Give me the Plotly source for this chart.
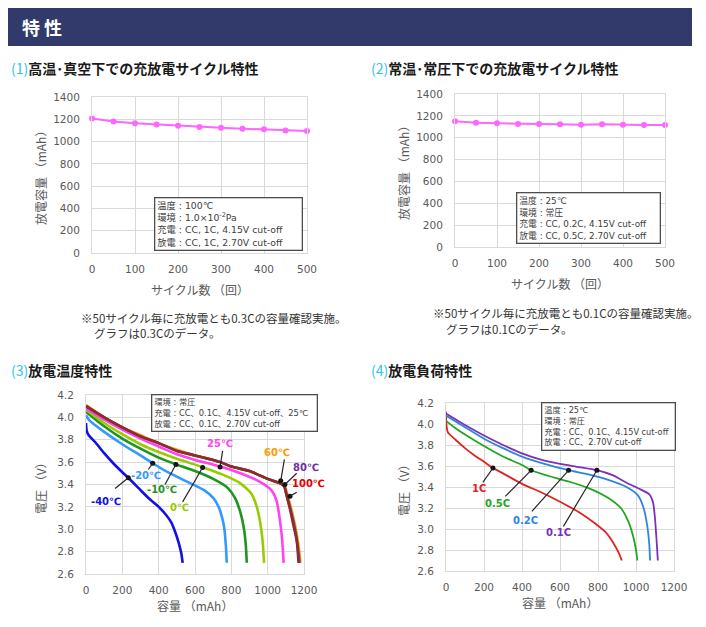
import plotly.graph_objects as go

# page has an 8px body margin; the figure is sized to fill the rest of the 706x627 window
PAGE_W, PAGE_H, OFF = 706, 627, 8
W, H = PAGE_W - OFF, PAGE_H - OFF
FONT = "Noto Sans CJK JP"
NUMFONT = "DejaVu Sans, Noto Sans CJK JP"

# ---------------- data ----------------
cycles = [0, 50, 100, 150, 200, 250, 300, 350, 400, 450, 500]
cap_vacuum = [1208, 1181, 1164, 1153, 1141, 1130, 1123, 1116, 1110, 1100, 1094]
cap_normal = [1150, 1136, 1132, 1126, 1125, 1124, 1119, 1124, 1119, 1116, 1116]

# (3) discharge vs temperature
temp_labels = ["-40℃", "-20℃", "-10℃", "0℃", "25℃", "60℃", "80℃", "100℃"]
cap_m40 = [0, 4, 15, 50, 100, 150, 200, 233, 300, 350, 400, 440, 470, 490, 510, 525, 532]
v_m40 = [3.95, 3.88, 3.84, 3.78, 3.68, 3.59, 3.51, 3.46, 3.35, 3.27, 3.20, 3.13, 3.06, 2.98, 2.88, 2.78, 2.70]
cap_m20 = [0, 20, 100, 200, 300, 367, 450, 550, 650, 700, 730, 750, 762, 770, 775]
v_m20 = [4.02, 3.97, 3.87, 3.76, 3.66, 3.59, 3.51, 3.43, 3.35, 3.28, 3.20, 3.10, 3.00, 2.85, 2.70]
cap_m10 = [0, 100, 200, 300, 400, 495, 600, 700, 780, 820, 850, 870, 880, 885]
v_m10 = [4.05, 3.92, 3.81, 3.72, 3.64, 3.58, 3.52, 3.45, 3.37, 3.28, 3.15, 3.00, 2.85, 2.70]
cap_0 = [0, 100, 200, 300, 400, 500, 642, 750, 850, 910, 940, 960, 972, 980]
v_0 = [4.07, 3.95, 3.85, 3.76, 3.69, 3.63, 3.555, 3.49, 3.41, 3.32, 3.20, 3.05, 2.90, 2.70]
cap_25 = [0, 100, 200, 300, 400, 500, 600, 738, 850, 950, 1020, 1050, 1070, 1080, 1088]
v_25 = [4.08, 3.98, 3.89, 3.81, 3.74, 3.67, 3.62, 3.56, 3.50, 3.43, 3.35, 3.25, 3.05, 2.90, 2.70]
cap_60 = [0, 100, 200, 300, 400, 500, 600, 700, 740, 800, 900, 1000, 1070, 1095, 1110, 1135, 1155, 1170, 1180]
v_60 = [4.11, 4.00, 3.91, 3.84, 3.77, 3.71, 3.66, 3.62, 3.60, 3.56, 3.52, 3.45, 3.41, 3.38, 3.30, 3.15, 3.00, 2.85, 2.70]
cap_80 = [0, 100, 200, 300, 400, 500, 600, 700, 740, 800, 900, 1000, 1070, 1092, 1105, 1130, 1150, 1165, 1175]
v_80 = [4.10, 4.00, 3.91, 3.83, 3.77, 3.70, 3.66, 3.62, 3.60, 3.56, 3.52, 3.45, 3.41, 3.38, 3.30, 3.15, 3.00, 2.85, 2.70]
cap_100 = [0, 100, 200, 300, 400, 500, 600, 700, 740, 800, 900, 1000, 1070, 1090, 1100, 1120, 1140, 1160, 1170]
v_100 = [4.10, 4.00, 3.91, 3.83, 3.77, 3.70, 3.66, 3.62, 3.60, 3.56, 3.52, 3.45, 3.41, 3.39, 3.33, 3.20, 3.05, 2.90, 2.70]

# (4) discharge vs load
rate_labels = ["1C", "0.5C", "0.2C", "0.1C"]
cap_1c = [0, 3, 10, 50, 100, 150, 200, 247, 300, 400, 500, 600, 700, 780, 840, 880, 910, 925]
v_1c = [4.12, 3.98, 3.92, 3.85, 3.77, 3.70, 3.64, 3.58, 3.53, 3.43, 3.35, 3.26, 3.16, 3.06, 2.97, 2.87, 2.77, 2.70]
cap_05c = [0, 50, 100, 200, 300, 400, 448, 550, 650, 750, 850, 920, 960, 985, 1000, 1007]
v_05c = [4.03, 3.96, 3.90, 3.79, 3.69, 3.61, 3.56, 3.50, 3.45, 3.39, 3.30, 3.20, 3.07, 2.93, 2.80, 2.70]
cap_02c = [0, 100, 200, 300, 400, 500, 645, 750, 850, 950, 1010, 1040, 1060, 1070, 1074]
v_02c = [4.08, 3.97, 3.86, 3.77, 3.69, 3.63, 3.56, 3.52, 3.47, 3.40, 3.32, 3.20, 3.02, 2.85, 2.70]
cap_01c = [0, 100, 200, 300, 400, 500, 600, 700, 794, 880, 950, 1020, 1070, 1090, 1100, 1108, 1115]
v_01c = [4.10, 3.99, 3.89, 3.80, 3.72, 3.66, 3.62, 3.59, 3.56, 3.51, 3.44, 3.38, 3.33, 3.25, 3.10, 2.90, 2.70]

# ---------------- helpers ----------------
def px(x):
    return (x - OFF) / W

def py(y):
    return 1 - (y - OFF) / H

GRID = "#D9D9D9"
TICK = dict(family=NUMFONT, size=10.5, color="#595959")

def axis(domain, rng, dtick, anchor, fmt=None):
    d = dict(domain=domain, range=rng, dtick=dtick, anchor=anchor, showgrid=True,
             gridcolor=GRID, gridwidth=1, zeroline=False, showline=True, linecolor=GRID,
             linewidth=1, mirror=True, ticks="", tickfont=TICK, fixedrange=True,
             automargin=False)
    if fmt:
        d["tickformat"] = fmt
    return d

X3 = (0, 1200)
Y3 = (2.6, 4.2)

def dom(v, r):
    return (v - r[0]) / (r[1] - r[0])

fig = go.Figure()

# (1)
fig.add_trace(go.Scatter(x=cycles, y=cap_vacuum, mode="lines+markers", xaxis="x", yaxis="y",
                         line=dict(color="#FF66FF", width=2), marker=dict(size=6, color="#FF66FF"),
                         cliponaxis=False, showlegend=False))
# (2)
fig.add_trace(go.Scatter(x=cycles, y=cap_normal, mode="lines+markers", xaxis="x2", yaxis="y2",
                         line=dict(color="#FF66FF", width=2), marker=dict(size=6, color="#FF66FF"),
                         cliponaxis=False, showlegend=False))

# (3)
temp_series = [
    (cap_m40, v_m40, "#1010E8"),
    (cap_m20, v_m20, "#3399FF"),
    (cap_m10, v_m10, "#1E961E"),
    (cap_0, v_0, "#99CC00"),
    (cap_25, v_25, "#FF44EE"),
    (cap_60, v_60, "#FF9900"),
    (cap_80, v_80, "#7030A0"),
    (cap_100, v_100, "#8E2C2C"),
]
for (cx, vy, col), name in zip(temp_series, temp_labels):
    fig.add_trace(go.Scatter(x=cx, y=vy, mode="lines", xaxis="x3", yaxis="y3", name=name,
                             line=dict(color=col, width=2.6, shape="spline", smoothing=0.6),
                             showlegend=False))

# (4)
rate_series = [
    (cap_1c, v_1c, "#E02222"),
    (cap_05c, v_05c, "#22A622"),
    (cap_02c, v_02c, "#2E86D8"),
    (cap_01c, v_01c, "#7B2FBE"),
]
for (cx, vy, col), name in zip(rate_series, rate_labels):
    fig.add_trace(go.Scatter(x=cx, y=vy, mode="lines", xaxis="x4", yaxis="y4", name=name,
                             line=dict(color=col, width=1.8, shape="spline", smoothing=0.6),
                             showlegend=False))

# leader-line label layout: (text, color, text_x, text_y, tail_x, tail_y, point_x, point_y)
temp_callouts = [
    ("-40℃", "#1010E8", 110, 3.245, 160, 3.364, 233, 3.46),
    ("-20℃", "#3399FF", 330, 3.484, 343, 3.534, 367, 3.59),
    ("-10℃", "#1E961E", 417, 3.355, 435, 3.40, 495, 3.579),
    ("0℃", "#99CC00", 514, 3.194, 532, 3.245, 642, 3.552),
    ("25℃", "#FF44EE", 738, 3.767, 752, 3.70, 738, 3.556),
    ("60℃", "#FF9900", 1053, 3.684, 1092, 3.624, 1072, 3.433),
    ("80℃", "#7030A0", 1210, 3.552, 1160, 3.50, 1095, 3.40),
    ("100℃", "#E00000", 1225, 3.41, 1160, 3.33, 1123, 3.296),
]
rate_callouts = [
    ("1C", "#E02222", 172, 3.381, 194, 3.444, 247, 3.581),
    ("0.5C", "#22A622", 273, 3.241, 312, 3.311, 448, 3.559),
    ("0.2C", "#2E86D8", 417, 3.083, 452, 3.168, 645, 3.559),
    ("0.1C", "#7B2FBE", 592, 2.962, 618, 3.025, 794, 3.559),
]

shapes = [dict(type="rect", xref="paper", yref="paper", x0=px(7), x1=px(692), y0=py(46), y1=py(8),
               fillcolor="#323A6B", line=dict(width=0), layer="below")]
annotations = []

for calls, xr, yr in [(temp_callouts, "x3", "y3"), (rate_callouts, "x4", "y4")]:
    for (t, col, tx, ty, lx, ly, ptx, pty) in calls:
        shapes.append(dict(type="line", xref=xr, yref=yr, x0=lx, y0=ly, x1=ptx, y1=pty,
                           line=dict(color="#262626", width=1.2)))
        annotations.append(dict(x=dom(tx, X3), y=dom(ty, Y3), xref=xr + " domain", yref=yr + " domain",
                                xanchor="center", yanchor="middle",
                                text="<b>%s</b>" % t, showarrow=False,
                                font=dict(family=NUMFONT, size=10, color=col)))
    fig.add_trace(go.Scatter(x=[c[6] for c in calls], y=[c[7] for c in calls], mode="markers",
                             xaxis=xr, yaxis=yr, marker=dict(size=5, color="#111111"),
                             cliponaxis=False, showlegend=False))

# header & subtitles
annotations.append(dict(x=px(20), y=py(27), xref="paper", yref="paper", xanchor="left", yanchor="middle",
                        text="<b>特 性</b>", showarrow=False, font=dict(family=FONT, size=18, color="white")))
subs = [
    ("(1)", "高温･真空下での充放電サイクル特性", 9, 68),
    ("(2)", "常温･常圧下での充放電サイクル特性", 369, 68),
    ("(3)", "放電温度特性", 9, 370),
    ("(4)", "放電負荷特性", 369, 370),
]
for num, t, x, y in subs:
    annotations.append(dict(x=px(x), y=py(y), xref="paper", yref="paper", xanchor="left", yanchor="middle",
                            text="<span style='color:#2EC4F0'>%s</span><b>%s</b>" % (num, t), showarrow=False,
                            font=dict(family=FONT, size=14, color="#1A1A1A")))

# notes
notes = [
    ("※50サイクル毎に充放電とも0.3Cの容量確認実施。", 79, 318),
    ("グラフは0.3Cのデータ。", 92, 333),
    ("※50サイクル毎に充放電とも0.1Cの容量確認実施。", 431, 313),
    ("グラフは0.1Cのデータ。", 444, 329),
]
for t, x, y in notes:
    annotations.append(dict(x=px(x), y=py(y), xref="paper", yref="paper", xanchor="left", yanchor="middle",
                            text=t, showarrow=False, font=dict(family=FONT, size=11.5, color="#333333")))

# info boxes: (text, left px, top px, width, font size)
boxes = [
    ("温度 : 100℃<br>環境 : 1.0×10<sup>-2</sup>Pa<br>充電 : CC, 1C, 4.15V cut-off<br>放電 : CC, 1C, 2.70V cut-off",
     154, 197, 142, 9.3),
    ("温度 : 25℃<br>環境 : 常圧<br>充電 : CC, 0.2C, 4.15V cut-off<br>放電 : CC, 0.5C, 2.70V cut-off",
     516, 192, 138, 8.8),
    ("環境 : 常圧<br>充電 : CC、0.1C、4.15V cut-off、25℃<br>放電 : CC、0.1C、2.70V cut-off",
     151, 394, 160, 8.3),
    ("温度 : 25℃<br>環境 : 常圧<br>充電 : CC、0.1C、4.15V cut-off<br>放電 : CC、2.70V cut-off",
     541, 402, 128, 8.2),
]
for t, x, y, w, fs in boxes:
    annotations.append(dict(x=px(x), y=py(y), xref="paper", yref="paper", xanchor="left", yanchor="top",
                            text=t, showarrow=False, align="left", bgcolor="white", bordercolor="#4D4D4D",
                            borderwidth=1.3, borderpad=2, width=w,
                            font=dict(family=NUMFONT, size=fs, color="#404040")))

# axis titles
ATF = dict(family=FONT, size=12, color="#595959")
ytitles = [("放電容量 （mAh）", 40, 175), ("放電容量 （mAh）", 403, 170),
           ("電圧 （V）", 40, 485), ("電圧 （V）", 403, 487)]
for t, x, y in ytitles:
    annotations.append(dict(x=px(x), y=py(y), xref="paper", yref="paper", text=t, textangle=-90,
                            xanchor="center", yanchor="middle", showarrow=False, font=ATF))
xtitles = [("サイクル数 （回）", 200, 289), ("サイクル数 （回）", 560, 283),
           ("容量 （mAh）", 195, 605), ("容量 （mAh）", 560, 602)]
for t, x, y in xtitles:
    annotations.append(dict(x=px(x), y=py(y), xref="paper", yref="paper", text=t,
                            xanchor="center", yanchor="middle", showarrow=False, font=ATF))

fig.update_layout(
    width=W, height=H, margin=dict(l=0, r=0, t=0, b=0, autoexpand=False),
    paper_bgcolor="white", plot_bgcolor="white",
    font=dict(family=FONT),
    xaxis=axis([px(92), px(307)], [0, 500], 100, "y"),
    yaxis=axis([py(253), py(97)], [0, 1400], 200, "x"),
    xaxis2=axis([px(455), px(665)], [0, 500], 100, "y2"),
    yaxis2=axis([py(247), py(94)], [0, 1400], 200, "x2"),
    xaxis3=axis([px(86), px(304)], list(X3), 200, "y3"),
    yaxis3=axis([py(574), py(395)], list(Y3), 0.2, "x3", ".1f"),
    xaxis4=axis([px(446), px(674)], list(X3), 200, "y4"),
    yaxis4=axis([py(571), py(403)], list(Y3), 0.2, "x4", ".1f"),
    shapes=shapes,
    annotations=annotations,
)
for k in ["yaxis", "yaxis2", "yaxis3", "yaxis4"]:
    fig.layout[k].ticklabelstandoff = 9
for k in ["xaxis", "xaxis2", "xaxis3", "xaxis4"]:
    fig.layout[k].ticklabelstandoff = 6

fig.write_html("out.html")
